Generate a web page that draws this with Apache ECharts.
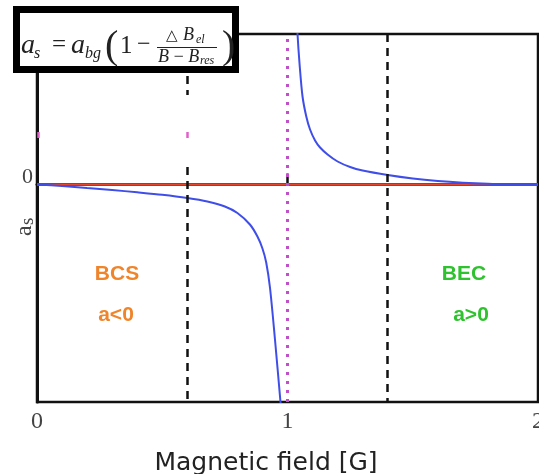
<!DOCTYPE html>
<html>
<head>
<meta charset="utf-8">
<script src="https://cdn.jsdelivr.net/npm/echarts@6/dist/echarts.min.js"></script>
<style>html,body{margin:0;padding:0;background:#fff;}#c{width:539px;height:474px;}</style>
</head>
<body>
<div id="c"></div>
<script>
// ---- data ----
const xTickValues = [0, 1, 2];
const yTickValues = [0];
const leftB = [0, 0.1, 0.2, 0.3, 0.4, 0.5, 0.6, 0.68, 0.75, 0.80, 0.85, 0.88, 0.90, 0.915, 0.93, 0.95, 0.972, 0.985];
const leftA = [0, -0.015, -0.035, -0.055, -0.078, -0.103, -0.135, -0.17, -0.22, -0.285, -0.40, -0.52, -0.64, -0.78, -1.03, -1.55, -2.175, -2.55];
const rightB = [1.034, 1.040, 1.048, 1.060, 1.075, 1.09, 1.11, 1.13, 1.16, 1.20, 1.25, 1.30, 1.40, 1.50, 1.60, 1.70, 1.80, 1.90, 2.0];
const rightA = [1.85, 1.505, 1.21, 0.88, 0.68, 0.55, 0.44, 0.37, 0.30, 0.23, 0.175, 0.14, 0.095, 0.06, 0.035, 0.018, 0.007, 0.002, 0];
const zeroB = [0, 2];
const zeroA = [0, 0];
const resonanceB = 1;
// dashed boundary lines: [B, aFrom, aTo]
const dashSpans = [[0.6, 1.505, 0.895], [0.6, 0.175, -2.175], [1.4, 1.505, -2.175]];
const pinkSpans = [[0.6, 0.525, 0.465], [0.004, 0.525, 0.465]];
const yMin = -2.175, yMax = 1.505;

const pairs = (xs, ys) => xs.map((x, i) => [x, ys[i]]);
const spanData = s => s.map(d => [{coord: [d[0], d[1]]}, {coord: [d[0], d[2]]}]);

const chart = echarts.init(document.getElementById('c'), null, {renderer: 'canvas'});
const serif = 'Liberation Serif';
const T = (x, y, text, size, italic, family) => ({
  type: 'text', x: x, y: y, z: 100,
  style: {text: text, font: (italic ? 'italic ' : '') + size + 'px "' + (family || serif) + '"', fill: '#222', verticalAlign: 'middle', align: 'left'}
});

chart.setOption({
  animation: false,
  grid: {left: 37, right: 1, top: 34, bottom: 72, outerBoundsMode: 'none', containLabel: false,
    show: true, borderColor: '#111', borderWidth: 2.5, backgroundColor: '#fff'},
  xAxis: {
    type: 'value', min: 0, max: 2, interval: 1,
    name: 'Magnetic field [G]', nameLocation: 'middle', nameGap: 49,
    nameTextStyle: {fontFamily: 'DejaVu Sans', fontSize: 25, color: '#222', padding: [0, 43, 0, 0]},
    axisLine: {show: true, lineStyle: {color: '#111', width: 3}},
    axisTick: {show: true, inside: true, length: 11, lineStyle: {color: '#111', width: 2.5}},
    axisLabel: {fontFamily: serif, fontSize: 24, color: '#444', margin: 8},
    splitLine: {show: false}
  },
  yAxis: {
    type: 'value', min: yMin, max: yMax,
    axisLine: {show: true, lineStyle: {color: '#111', width: 3}},
    axisTick: {show: false},
    axisLabel: {customValues: yTickValues, fontFamily: serif, fontSize: 22, color: '#444', margin: 4,
      verticalAlign: 'bottom', lineHeight: 14},
    splitLine: {show: false}
  },
  series: [
    {type: 'line', data: pairs(zeroB, zeroA), showSymbol: false, lineStyle: {color: '#e5462c', width: 2.5}, z: 3},
    {type: 'line', data: pairs(leftB, leftA), showSymbol: false, smooth: 0.3, lineStyle: {color: '#3f4ee8', width: 2}, z: 4},
    {type: 'line', data: pairs(rightB, rightA), showSymbol: false, smooth: 0.3, lineStyle: {color: '#3f4ee8', width: 2}, z: 4},
    {type: 'line', data: [], markLine: {silent: true, symbol: 'none', label: {show: false},
      lineStyle: {color: '#111', width: 2.5, type: [8, 6]}, data: spanData(dashSpans)}},
    {type: 'line', data: [], markLine: {silent: true, symbol: 'none', label: {show: false},
      lineStyle: {color: '#c050c8', width: 3, type: [3, 6]}, data: [{xAxis: resonanceB}]}},
    {type: 'line', data: [], markLine: {silent: true, symbol: 'none', label: {show: false},
      lineStyle: {color: '#e060c8', width: 2.5, type: 'solid'}, data: spanData(pinkSpans)}}
  ],
  graphic: [
    {type: 'rect', z: 90, shape: {x: 16.5, y: 9.5, width: 219, height: 60}, style: {fill: '#fff', stroke: '#000', lineWidth: 7}},
    T(21, 46, 'a', 28, true),
    T(34, 54, 's', 16, true),
    T(52, 45, '=', 25),
    T(71, 46, 'a', 28, true),
    T(85, 54, 'bg', 16, true),
    T(105, 47, '(', 40),
    T(120, 46, '1', 25),
    T(137, 45, '\u2212', 24),
    T(166, 36, '\u25B3', 15, false, 'DejaVu Sans'),
    T(183, 35, 'B', 18, true),
    T(196, 40, 'el', 12, true),
    {type: 'line', z: 100, shape: {x1: 157, y1: 47.5, x2: 217, y2: 47.5}, style: {stroke: '#222', lineWidth: 1}},
    T(158, 57, 'B\u2009\u2212\u2009B', 18, true),
    T(200, 61, 'res', 12, true),
    T(222, 47, ')', 40),
    {type: 'group', x: 25, y: 226, rotation: Math.PI / 2, z: 100, children: [
      {type: 'text', x: -10, y: 0, style: {text: 'a', font: '24px "' + serif + '"', fill: '#444', verticalAlign: 'middle', align: 'left'}},
      {type: 'text', x: 1, y: 3, style: {text: 's', font: '19px "' + serif + '"', fill: '#444', verticalAlign: 'middle', align: 'left'}}
    ]},
    {type: 'text', x: 117, y: 274, z: 100, style: {text: 'BCS', font: 'bold 21px "Liberation Sans"', fill: '#f0842a', align: 'center', verticalAlign: 'middle'}},
    {type: 'text', x: 116, y: 315, z: 100, style: {text: 'a<0', font: 'bold 21px "Liberation Sans"', fill: '#f0842a', align: 'center', verticalAlign: 'middle'}},
    {type: 'text', x: 464, y: 274, z: 100, style: {text: 'BEC', font: 'bold 21px "Liberation Sans"', fill: '#2ec22e', align: 'center', verticalAlign: 'middle'}},
    {type: 'text', x: 471, y: 315, z: 100, style: {text: 'a>0', font: 'bold 21px "Liberation Sans"', fill: '#2ec22e', align: 'center', verticalAlign: 'middle'}}
  ]
});
</script>
</body>
</html>
